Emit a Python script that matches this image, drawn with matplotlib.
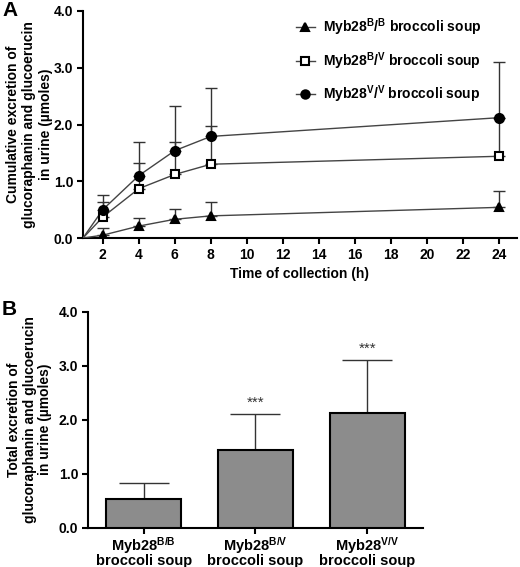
import numpy as np
import matplotlib
matplotlib.use("Agg")
import matplotlib.pyplot as plt
from matplotlib.lines import Line2D

# ---- data -------------------------------------------------------------
times = [0, 2, 4, 6, 8, 24]
bb_mean = [0, 0.05, 0.21, 0.33, 0.39, 0.54]
bb_err = [0, 0.12, 0.15, 0.18, 0.24, 0.28]
bv_mean = [0, 0.37, 0.87, 1.12, 1.30, 1.44]
bv_err = [0, 0.27, 0.45, 0.57, 0.68, 0.67]
vv_mean = [0, 0.50, 1.10, 1.54, 1.79, 2.12]
vv_err = [0, 0.26, 0.60, 0.79, 0.86, 0.98]

series_labels = ["Myb28$^{B}$/$^{B}$ broccoli soup",
                 "Myb28$^{B}$/$^{V}$ broccoli soup",
                 "Myb28$^{V}$/$^{V}$ broccoli soup"]

bar_labels = ["Myb28$^{B/B}$\nbroccoli soup",
              "Myb28$^{B/V}$\nbroccoli soup",
              "Myb28$^{V/V}$\nbroccoli soup"]
total_mean = [0.54, 1.44, 2.12]
total_err = [0.28, 0.67, 0.98]
signif = ["", "***", "***"]

# ---- style ------------------------------------------------------------
plt.rcParams.update({
    "font.family": "Liberation Sans",
    "font.weight": "bold",
    "axes.labelweight": "bold",
    "font.size": 10,
    "mathtext.fontset": "custom",
    "mathtext.rm": "Liberation Sans:bold",
    "mathtext.it": "Liberation Sans:bold",
    "mathtext.bf": "Liberation Sans:bold",
    "mathtext.default": "rm",
    "axes.linewidth": 1.5,
    "xtick.major.width": 1.5,
    "ytick.major.width": 1.5,
    "xtick.major.size": 4,
    "ytick.major.size": 4,
})

W, H = 520, 567
fig = plt.figure(figsize=(W / 100, H / 100), dpi=100)


def px_axes(left, top, right, bottom):
    return fig.add_axes([left / W, 1 - bottom / H, (right - left) / W, (bottom - top) / H])


def style(ax):
    for s in ("top", "right"):
        ax.spines[s].set_visible(False)
    ax.tick_params(labelsize=10, pad=3)


# ---- panel A ----------------------------------------------------------
axA = px_axes(83, 11, 517, 238)
style(axA)


# squeeze 0..2 h into the short stretch left of the "2" tick
def fwd(x):
    x = np.asarray(x, dtype=float)
    return np.where(x < 2, 0.9 + x * 0.55, x)


def inv(y):
    y = np.asarray(y, dtype=float)
    return np.where(y < 2, (y - 0.9) / 0.55, y)


axA.set_xscale("function", functions=(fwd, inv))

t = np.array(times)
specs = [(bb_mean, bb_err, "^", "black", 6),
         (bv_mean, bv_err, "s", "white", 6),
         (vv_mean, vv_err, "o", "black", 6.5)]
handles = []
for (m, e, mk, fc, ms), lab in zip(specs, series_labels):
    m = np.array(m); e = np.array(e)
    axA.errorbar(t[1:], m[1:], yerr=[np.zeros(len(e) - 1), e[1:]], fmt="none",
                 ecolor="#333333", elinewidth=1, capsize=4.5, capthick=1, zorder=2)
    axA.plot(t, m, color="#444444", lw=1, zorder=3)
    axA.plot(t[1:], m[1:], ls="none", marker=mk, ms=ms, mfc=fc, mec="black",
             mew=1.5, zorder=4)
    handles.append(Line2D([], [], color="#444444", lw=1, marker=mk, ms=ms - 0.5,
                          mfc=fc, mec="black", mew=1.5, label=lab))

axA.set_xlim(0, 25)
axA.set_ylim(0, 4)
axA.set_xticks(range(2, 25, 2))
axA.set_yticks([0, 1, 2, 3, 4])
axA.set_yticklabels(["0.0", "1.0", "2.0", "3.0", "4.0"])
axA.set_xlabel("Time of collection (h)", fontsize=10, labelpad=4)
axA.set_ylabel("Cumulative excretion of\nglucoraphanin and glucoerucin\nin urine (µmoles)",
               fontsize=10, linespacing=1.25)
axA.yaxis.set_label_coords(-0.069, 0.5)
axA.legend(handles=handles, loc="upper left", bbox_to_anchor=(0.49, 0.975),
           frameon=False, fontsize=10, handlelength=1.4, handletextpad=0.6,
           labelspacing=0.85, borderpad=0, borderaxespad=0)

fig.text(2 / W, 1 - 1 / H, "A", fontsize=15, fontweight="bold", va="top", ha="left")

# ---- panel B ----------------------------------------------------------
axB = px_axes(88, 311.7, 423, 527.7)
style(axB)
x = np.arange(len(total_mean))
axB.bar(x, total_mean, width=0.67, color="#8c8c8c", edgecolor="black", lw=1.5, zorder=3)
axB.errorbar(x, total_mean, yerr=[np.zeros(len(x)), total_err], fmt="none",
             ecolor="#333333", elinewidth=1, capsize=18, capthick=1, zorder=2)
for xi, m, e, s in zip(x, total_mean, total_err, signif):
    if s:
        axB.annotate(s, (xi, m + e), xytext=(0, 3), textcoords="offset points",
                     ha="center", va="bottom", fontsize=11, fontweight="normal",
                     color="#333333")

axB.set_xlim(-0.5, 2.5)
axB.set_ylim(0, 4)
axB.set_xticks(x)
axB.set_xticklabels(bar_labels, linespacing=0.78, fontsize=10.5)
axB.tick_params(axis="x", pad=1.5)
axB.set_yticks([0, 1, 2, 3, 4])
axB.set_yticklabels(["0.0", "1.0", "2.0", "3.0", "4.0"])
axB.set_ylabel("Total excretion of\nglucoraphanin and glucoerucin\nin urine (µmoles)",
               fontsize=10, linespacing=1.15)
axB.yaxis.set_label_coords(-0.107, 0.5)

fig.text(2 / W, 1 - 300 / H, "B", fontsize=15, fontweight="bold", va="top", ha="left")

fig.savefig("out.png", dpi=100)
